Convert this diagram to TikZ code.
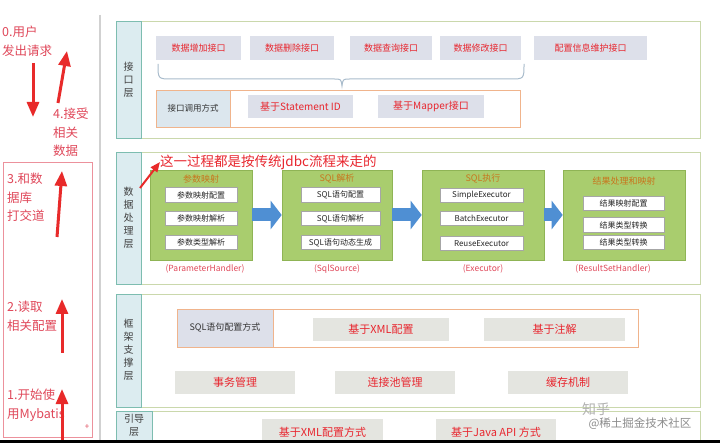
\documentclass[tikz,border=0pt]{standalone}
\usepackage{fontspec}
\setmainfont{Noto Sans CJK SC}
\usetikzlibrary{arrows.meta}
\definecolor{redtxt}{HTML}{E8262E}
\definecolor{pinktxt}{HTML}{E0485A}
\definecolor{redarr}{HTML}{E82A2A}
\definecolor{labfill}{HTML}{DCECF0}
\definecolor{labdraw}{HTML}{7DBDB0}
\definecolor{layerdraw}{HTML}{CAD8AC}
\definecolor{ifill}{HTML}{DDE0EA}
\definecolor{oframe}{HTML}{F0B48C}
\definecolor{gfill}{HTML}{A9CD6E}
\definecolor{gdraw}{HTML}{8FB455}
\definecolor{gtitle}{HTML}{C8761E}
\definecolor{barrow}{HTML}{4F8FD3}
\definecolor{sfill}{HTML}{E4E5E0}
\definecolor{bracec}{HTML}{A9BCCC}
\begin{document}
\begin{tikzpicture}[x=1pt,y=-1pt,
  layer/.style={draw=layerdraw,line width=0.8pt,fill=white,inner sep=0pt,anchor=north west},
  labcol/.style={draw=labdraw,fill=labfill,line width=0.8pt,inner sep=0pt,anchor=north west},
  labtxt/.style={font=\fontsize{10}{13}\selectfont,text=black!75,align=center},
  ibox/.style={fill=ifill,inner sep=0pt,minimum height=24pt,text=redtxt,font=\fontsize{9}{11}\selectfont},
  sbox/.style={fill=sfill,inner sep=0pt,minimum height=23pt,minimum width=120pt,text=redtxt,font=\fontsize{11}{13}\selectfont},
  gbox/.style={fill=gfill,draw=gdraw,line width=0.6pt,inner sep=0pt,minimum height=90pt},
  gtit/.style={text=gtitle,font=\fontsize{9}{11}\selectfont},
  wbox/.style={fill=white,draw=black!35,line width=0.5pt,inner sep=0pt,minimum height=14.5pt,font=\fontsize{8}{10}\selectfont,text=black!85},
  captxt/.style={text=pinktxt,font=\fontsize{8.5}{10}\selectfont},
  bluearr/.style={barrow,line width=13pt,-{Triangle[width=28pt,length=11pt]}},
  redarrow/.style={redarr,line width=3pt,-{Triangle[width=12pt,length=15pt]}},
  lefttxt/.style={text=pinktxt,font=\fontsize{12.5}{18.5}\selectfont,align=left,inner sep=0pt,anchor=north west}
]
\useasboundingbox (0,0) rectangle (720,443);
\fill[white] (0,0) rectangle (720,443);

% left separator
\draw[black!18,line width=2pt] (100,15) -- (100,440);

% ---------- Layer 1 ----------
\node[layer,minimum width=584pt,minimum height=117pt] (L1) at (116,21) {};
\node[labcol,minimum width=25pt,minimum height=117pt] (L1l) at (116,21) {};
\node[labtxt] at (128.5,80) {接\\口\\层};
\node[ibox,minimum width=85pt] (a1) at (198.5,48) {数据增加接口};
\node[ibox,minimum width=84pt] (a2) at (292,48) {数据删除接口};
\node[ibox,minimum width=82pt] (a3) at (391,48) {数据查询接口};
\node[ibox,minimum width=81pt] (a4) at (480.5,48) {数据修改接口};
\node[ibox,minimum width=113pt] (a5) at (590.5,48) {配置信息维护接口};
\draw[bracec,line width=1pt] (158,64) .. controls (158,79) .. (172,79) -- (334,79)
  .. controls (341,79) .. (342,86) .. controls (343,79) .. (350,79) -- (510,79)
  .. controls (524,79) .. (524,64);
\node[draw=oframe,line width=0.8pt,inner sep=0pt,minimum width=364pt,minimum height=37pt] (call) at (338,108.5) {};
\node[fill=labfill!60!ifill,draw=oframe,line width=0.8pt,inner sep=0pt,minimum width=74pt,minimum height=37pt,font=\fontsize{8.5}{10}\selectfont,text=black!80] (calll) at (193,108.5) {接口调用方式};
\node[ibox,minimum width=105pt,minimum height=23pt,font=\fontsize{10}{12}\selectfont] (sid) at (300.5,106.5) {基于Statement ID};
\node[ibox,minimum width=106pt,minimum height=23pt,font=\fontsize{10}{12}\selectfont] (map) at (431,106.5) {基于Mapper接口};

% ---------- Layer 2 ----------
\node[layer,minimum width=584pt,minimum height=132pt] (L2) at (116,152) {};
\node[labcol,minimum width=25pt,minimum height=132pt] (L2l) at (116,152) {};
\node[labtxt] at (128.5,218) {数\\据\\处\\理\\层};

\node[gbox,minimum width=102pt] (g1) at (201,215) {};
\node[gbox,minimum width=110pt] (g2) at (337,215) {};
\node[gbox,minimum width=122pt] (g3) at (483,215) {};
\node[gbox,minimum width=122pt] (g4) at (624,215) {};

\node[gtit] at (201,179) {参数映射};
\node[gtit] at (337,179) {SQL解析};
\node[gtit] at (483,179) {SQL执行};
\node[gtit] at (624,181) {结果处理和映射};

\node[wbox,minimum width=72pt] (p1) at (201,195) {参数映射配置};
\node[wbox,minimum width=72pt] (p2) at (201,218.5) {参数映射解析};
\node[wbox,minimum width=72pt] (p3) at (201,242.5) {参数类型解析};
\node[wbox,minimum width=79pt] (q1) at (340.5,195) {SQL语句配置};
\node[wbox,minimum width=79pt] (q2) at (340.5,218.5) {SQL语句解析};
\node[wbox,minimum width=79pt] (q3) at (340.5,242.5) {SQL语句动态生成};
\node[wbox,minimum width=83pt] (e1) at (481.5,195.5) {SimpleExecutor};
\node[wbox,minimum width=83pt] (e2) at (481.5,218.5) {BatchExecutor};
\node[wbox,minimum width=83pt] (e3) at (481.5,243.5) {ReuseExecutor};
\node[wbox,minimum width=81pt] (r1) at (623.5,203.5) {结果映射配置};
\node[wbox,minimum width=81pt] (r2) at (623.5,225) {结果类型转换};
\node[wbox,minimum width=81pt] (r3) at (623.5,242.5) {结果类型转换};

\node[captxt] at (205,269) {(ParameterHandler)};
\node[captxt] at (337,269) {(SqlSource)};
\node[captxt] at (483,269) {(Executor)};
\node[captxt] at (613,269) {(ResultSetHandler)};

\draw[bluearr] (g1.east) -- (g2.west);
\draw[bluearr] (g2.east) -- (g3.west);
\draw[bluearr] (g3.east) -- (g4.west);

\node[text=redtxt,font=\fontsize{13.5}{16}\selectfont,inner sep=0pt,anchor=west] (jdbc) at (160,162) {这一过程都是按传统jdbc流程来走的};
\coordinate (jdbcs) at (140,188);
\draw[redarr,line width=2pt,-{Triangle[width=8pt,length=10pt]}] (jdbcs) -- (jdbc.west);

% ---------- Layer 3 ----------
\node[layer,minimum width=584pt,minimum height=113pt] (L3) at (116,294) {};
\node[labcol,minimum width=25pt,minimum height=113pt] (L3l) at (116,294) {};
\node[labtxt] at (128.5,350) {框\\架\\支\\撑\\层};
\node[draw=oframe,line width=0.8pt,inner sep=0pt,minimum width=461pt,minimum height=38pt] (sqlf) at (407.5,328) {};
\node[fill=ifill,draw=oframe,line width=0.8pt,inner sep=0pt,minimum width=96pt,minimum height=38pt,font=\fontsize{9}{11}\selectfont,text=black!80] (sqll) at (225,328) {SQL语句配置方式};
\node[sbox,minimum width=136pt] (xml) at (381,329.5) {基于XML配置};
\node[sbox,minimum width=141pt] (ann) at (554.5,329.5) {基于注解};
\node[sbox] (tx) at (235,382.5) {事务管理};
\node[sbox] (pool) at (395,382.5) {连接池管理};
\node[sbox] (cache) at (568,382.5) {缓存机制};

% ---------- Layer 4 ----------
\node[layer,minimum width=584pt,minimum height=40pt] (L4) at (116,411) {};
\node[labcol,minimum width=36pt,minimum height=40pt] (L4l) at (116,411) {};
\node[labtxt,anchor=north,inner sep=0pt] at (134,414) {引导\\层};
\node[sbox,minimum width=121pt,minimum height=26pt] (xmlb) at (322.5,432) {基于XML配置方式};
\node[sbox,minimum width=120pt,minimum height=26pt] (java) at (496,432) {基于Java API 方式};

% watermark
\node[text=black!30,font=\fontsize{14}{16}\selectfont,inner sep=0pt] (wm1) at (596,409) {知乎};
\node[text=black!45,font=\fontsize{11.5}{14}\selectfont,inner sep=0pt] (wm2) at (640,424) {@稀土掘金技术社区};

% bottom bar
\fill[black] (0,440) rectangle (720,443);

% ---------- Left column ----------
\draw[pinktxt!60,line width=0.8pt] (3,162) rectangle (92,437);
\node[lefttxt] (t0) at (2,26) {0.用户\\发出请求};
\node[lefttxt] (t4) at (53,108) {4.接受\\相关\\数据};
\node[lefttxt] (t3) at (7,173) {3.和数\\据库\\打交道};
\node[lefttxt] (t2) at (7,301) {2.读取\\相关配置};
\node[lefttxt] (t1) at (7,389) {1.开始使\\用Mybatis};
\node[text=pinktxt,font=\fontsize{8}{9}\selectfont,inner sep=0pt] (plus) at (87,427) {+};

\coordinate (d0a) at (33,63);  \coordinate (d0b) at (33,117);
\coordinate (u4a) at (58,103); \coordinate (u4b) at (67,51);
\coordinate (u3a) at (57,237); \coordinate (u3b) at (62,171);
\coordinate (u2a) at (62,353); \coordinate (u2b) at (62,299);
\coordinate (u1a) at (62,440); \coordinate (u1b) at (62,389);
\draw[redarrow] (d0a) -- (d0b);
\draw[redarrow] (u4a) -- (u4b);
\draw[redarrow] (u3a) -- (u3b);
\draw[redarrow] (u2a) -- (u2b);
\draw[redarrow] (u1a) -- (u1b);
\end{tikzpicture}
\end{document}
